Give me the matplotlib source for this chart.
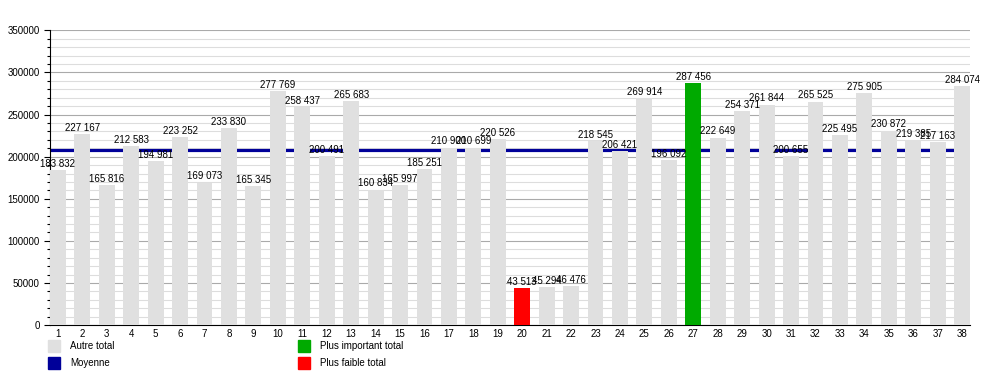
import numpy as np
import matplotlib
matplotlib.use("Agg")
import matplotlib.pyplot as plt
from matplotlib.patches import Rectangle
from matplotlib.ticker import MultipleLocator

plt.rcParams['font.family'] = ['Liberation Sans', 'DejaVu Sans']

# Data
numeros = list(range(1, 39))
totaux = [183832, 227167, 165816, 212583, 194981, 223252, 169073, 233830, 165345,
          277769, 258437, 200491, 265683, 160834, 165997, 185251, 210900, 210699,
          220526, 43513, 45294, 46476, 218545, 206421, 269914, 196092, 287456,
          222649, 254371, 261844, 200655, 265525, 225495, 275905, 230872, 219385,
          217163, 284074]
moyenne = np.mean(totaux)

gris = '#e0e0e0'
bleu = '#000099'
vert = '#00aa00'
rouge = '#ff0000'

couleurs = [gris] * len(totaux)
couleurs[int(np.argmax(totaux))] = vert
couleurs[int(np.argmin(totaux))] = rouge

fig = plt.figure(figsize=(10, 3.75), dpi=100)
ax = fig.add_axes([0.05, 0.133, 0.92, 0.786])

ax.bar(numeros, totaux, width=0.65, color=couleurs, zorder=3)
ax.axhline(moyenne, color=bleu, linewidth=2.3, zorder=2)

for n, v in zip(numeros, totaux):
    ax.text(n, v + 1500, f"{v:,}".replace(",", " "), ha='center', va='bottom',
            fontsize=7, zorder=4)

ax.set_xlim(0.675, 38.325)
ax.set_ylim(0, 350000)
ax.set_xticks(numeros)
ax.set_xticklabels([str(n) for n in numeros], fontsize=7)
ax.yaxis.set_major_locator(MultipleLocator(50000))
ax.yaxis.set_minor_locator(MultipleLocator(10000))
ax.set_yticklabels([str(int(t)) for t in ax.get_yticks()], fontsize=7)
ax.grid(axis='y', which='major', color='#aaaaaa', linewidth=0.8, zorder=0)
ax.grid(axis='y', which='minor', color='#dddddd', linewidth=0.8, zorder=0)
ax.set_axisbelow(True)
for s in ['top', 'right']:
    ax.spines[s].set_visible(False)
ax.spines['left'].set_linewidth(0.8)
ax.spines['bottom'].set_linewidth(0.8)
ax.tick_params(axis='x', length=0, pad=3)
ax.tick_params(axis='y', which='major', length=4, width=0.8)
ax.tick_params(axis='y', which='minor', length=2, width=0.8)

# Legend
legende = [(0.048, 0.062, gris, 'Autre total'),
           (0.048, 0.017, bleu, 'Moyenne'),
           (0.298, 0.062, vert, 'Plus important total'),
           (0.298, 0.017, rouge, 'Plus faible total')]
for x, y, c, t in legende:
    fig.patches.append(Rectangle((x, y), 0.012, 0.032, color=c,
                                 transform=fig.transFigure, figure=fig))
    fig.text(x + 0.022, y + 0.016, t, fontsize=7, va='center')

fig.savefig('out.png', dpi=100)
